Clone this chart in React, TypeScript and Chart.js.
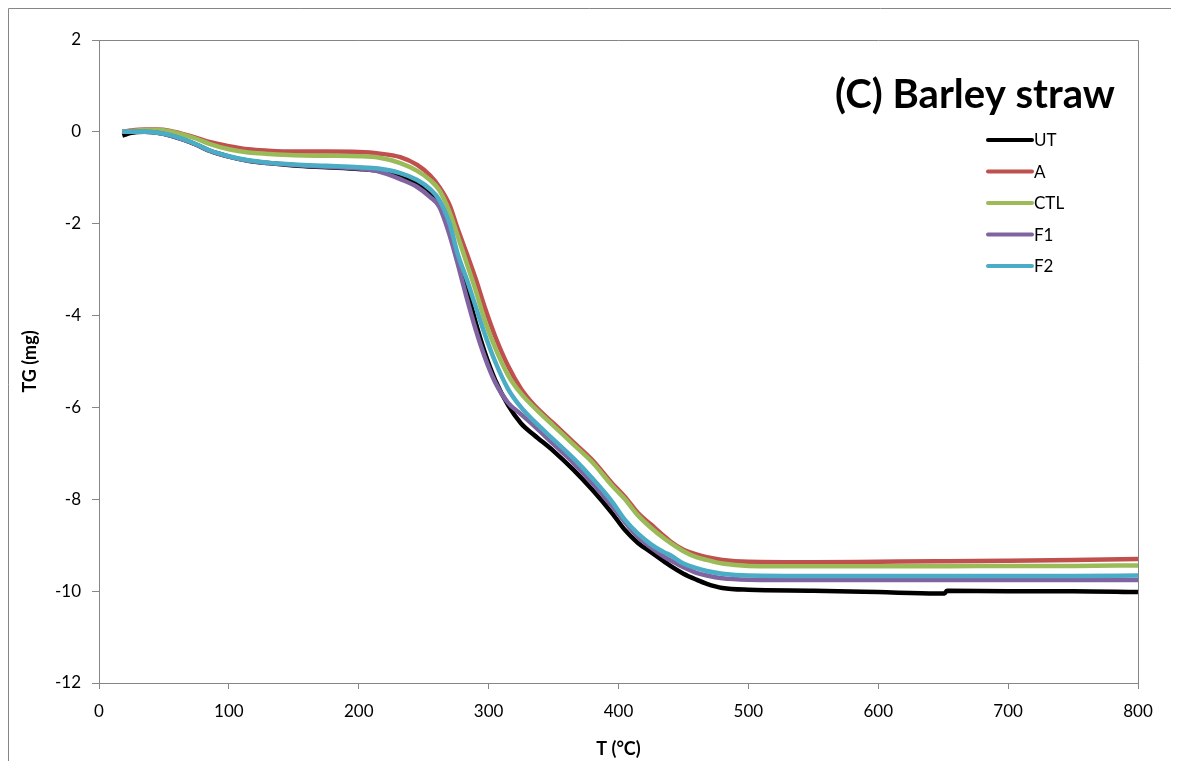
import React, { useEffect, useRef } from "react";
import { Chart, registerables } from "chart.js";

Chart.register(...registerables);

// ---------------- data ----------------
const temperature = [18, 25, 35, 45, 55, 65, 75, 85, 100, 115, 130, 150, 175, 200, 215, 232, 245, 255, 262, 270, 276, 283, 290, 297, 305, 315, 325, 335, 350, 365, 380, 395, 405, 415, 425, 435, 440, 450, 460, 468, 480, 500, 550, 600, 645, 651, 653, 700, 750, 800];

const tgUT = [-0.08, -0.02, 0.0, -0.02, -0.08, -0.17, -0.28, -0.41, -0.54, -0.63, -0.68, -0.73, -0.77, -0.81, -0.85, -0.97, -1.12, -1.35, -1.55, -2.15, -2.7, -3.4, -4.15, -4.8, -5.4, -5.95, -6.35, -6.6, -6.95, -7.35, -7.8, -8.3, -8.67, -8.95, -9.15, -9.35, -9.45, -9.62, -9.75, -9.84, -9.93, -9.97, -9.99, -10.02, -10.05, -10.05, -9.99, -10.0, -10.0, -10.02];

const tgA = [0.0, 0.03, 0.05, 0.05, 0.02, -0.05, -0.13, -0.22, -0.31, -0.38, -0.41, -0.43, -0.43, -0.44, -0.47, -0.55, -0.72, -0.95, -1.2, -1.6, -2.1, -2.64, -3.2, -3.82, -4.45, -5.1, -5.6, -5.95, -6.35, -6.75, -7.15, -7.65, -7.95, -8.3, -8.55, -8.8, -8.92, -9.1, -9.2, -9.26, -9.32, -9.36, -9.37, -9.36, -9.35, -9.35, -9.35, -9.34, -9.32, -9.3];

const tgCTL = [0.0, 0.02, 0.04, 0.04, 0.01, -0.06, -0.15, -0.26, -0.38, -0.45, -0.48, -0.51, -0.52, -0.53, -0.56, -0.68, -0.85, -1.05, -1.27, -1.75, -2.25, -2.85, -3.45, -4.1, -4.7, -5.3, -5.7, -6.0, -6.4, -6.8, -7.2, -7.7, -8.0, -8.35, -8.62, -8.85, -8.95, -9.13, -9.26, -9.32, -9.4, -9.45, -9.46, -9.46, -9.46, -9.46, -9.46, -9.45, -9.45, -9.44];

const tgF1 = [0.0, 0.0, 0.0, -0.02, -0.08, -0.17, -0.28, -0.41, -0.54, -0.63, -0.68, -0.72, -0.76, -0.8, -0.86, -1.03, -1.2, -1.42, -1.63, -2.25, -2.85, -3.6, -4.3, -4.9, -5.45, -5.9, -6.15, -6.4, -6.8, -7.2, -7.65, -8.15, -8.5, -8.82, -9.05, -9.25, -9.33, -9.48, -9.6, -9.66, -9.72, -9.75, -9.76, -9.76, -9.76, -9.76, -9.76, -9.76, -9.76, -9.76];

const tgF2 = [0.0, 0.0, 0.0, -0.02, -0.07, -0.16, -0.27, -0.4, -0.53, -0.62, -0.67, -0.71, -0.74, -0.77, -0.8, -0.9, -1.05, -1.25, -1.48, -2.0, -2.64, -3.2, -3.8, -4.4, -5.0, -5.6, -6.0, -6.3, -6.7, -7.1, -7.55, -8.05, -8.45, -8.75, -8.98, -9.15, -9.22, -9.4, -9.5, -9.56, -9.62, -9.66, -9.67, -9.67, -9.67, -9.67, -9.67, -9.67, -9.67, -9.66];

const seriesNames = ["UT", "A", "CTL", "F1", "F2"];
const seriesValues = [tgUT, tgA, tgCTL, tgF1, tgF2];
const seriesColors = ["#000000", "#C0504D", "#9BBB59", "#8064A2", "#4BACC6"];

const xTicks = [0, 100, 200, 300, 400, 500, 600, 700, 800];
const yTicks = [-12, -10, -8, -6, -4, -2, 0, 2];

const chartTitle = "(C) Barley straw";
const xTitle = "T (°C)";
const yTitle = "TG (mg)";

const FONT = "Lato, 'Open Sans', sans-serif";
const AXIS_GREY = "#868686";

// ---------------- plugin: frame, title, legend ----------------
const decorPlugin = {
  id: "decor",
  afterDraw(chart: any) {
    const { ctx, chartArea: ca } = chart;
    ctx.save();
    // outer chart border (left & top visible in the reference)
    ctx.strokeStyle = AXIS_GREY;
    ctx.lineWidth = 1;
    ctx.beginPath();
    ctx.moveTo(0.5, chart.height);
    ctx.lineTo(0.5, 0.5);
    ctx.lineTo(chart.width, 0.5);
    ctx.stroke();

    // plot area frame: top and right
    ctx.beginPath();
    ctx.moveTo(ca.left, Math.round(ca.top) + 0.5);
    ctx.lineTo(Math.round(ca.right) + 0.5, Math.round(ca.top) + 0.5);
    ctx.lineTo(Math.round(ca.right) + 0.5, ca.bottom);
    ctx.stroke();

    // title inside plot area
    let size = 38;
    ctx.font = `bold ${size}px ${FONT}`;
    const w = ctx.measureText(chartTitle).width;
    size = (size * 280) / w;
    ctx.font = `bold ${size}px ${FONT}`;
    ctx.fillStyle = "#000";
    ctx.textAlign = "right";
    ctx.textBaseline = "alphabetic";
    ctx.fillText(chartTitle, ca.right - 23, ca.top + 68);

    // legend inside plot area
    ctx.font = `17px ${FONT}`;
    ctx.textAlign = "left";
    ctx.textBaseline = "middle";
    chart.data.datasets.forEach((ds: any, i: number) => {
      const y = ca.top + 100 + i * 31.5;
      const x0 = ca.right - 150;
      ctx.strokeStyle = ds.borderColor;
      ctx.lineWidth = 4;
      ctx.lineCap = "round";
      ctx.beginPath();
      ctx.moveTo(x0, y);
      ctx.lineTo(x0 + 44, y);
      ctx.stroke();
      ctx.fillStyle = "#000";
      ctx.fillText(ds.label, x0 + 46, y + 1);
    });
    ctx.restore();
  },
};

export default function App() {
  const canvasRef = useRef<HTMLCanvasElement | null>(null);

  useEffect(() => {
    const canvas = canvasRef.current;
    if (!canvas) return;
    const datasets = seriesNames.map((name, i) => ({
      label: name,
      data: temperature.map((t, k) => ({ x: t, y: seriesValues[i][k] })),
      borderColor: seriesColors[i],
      backgroundColor: seriesColors[i],
      borderWidth: 4.5,
      pointRadius: 0,
      fill: false,
      cubicInterpolationMode: "monotone" as const,
      order: seriesNames.length - i,
    }));

    const chart = new Chart(canvas, {
      type: "line",
      data: { datasets },
      options: {
        animation: false,
        responsive: false,
        devicePixelRatio: 1,
        layout: { padding: { left: 0, top: 32, right: 33, bottom: 0 } },
        plugins: {
          legend: { display: false },
          tooltip: { enabled: false },
          title: { display: false },
        },
        scales: {
          x: {
            type: "linear",
            min: 0,
            max: 800,
            afterBuildTicks: (s: any) => {
              s.ticks = xTicks.map((v) => ({ value: v }));
            },
            afterFit: (s: any) => {
              s.height = 78;
            },
            grid: {
              drawOnChartArea: false,
              drawTicks: true,
              tickLength: 6,
              color: AXIS_GREY,
            },
            border: { display: true, color: AXIS_GREY },
            ticks: {
              color: "#000",
              font: { family: FONT, size: 17 },
              padding: 12,
              maxRotation: 0,
            },
            title: {
              display: true,
              text: xTitle,
              color: "#000",
              font: { family: FONT, size: 18, weight: "bold" },
              padding: { top: 0, bottom: 1 },
            },
          },
          y: {
            type: "linear",
            min: -12,
            max: 2,
            afterBuildTicks: (s: any) => {
              s.ticks = yTicks.map((v) => ({ value: v }));
            },
            afterFit: (s: any) => {
              s.width = 91;
            },
            grid: {
              drawOnChartArea: false,
              drawTicks: true,
              tickLength: 7,
              color: AXIS_GREY,
            },
            border: { display: true, color: AXIS_GREY },
            ticks: {
              color: "#000",
              font: { family: FONT, size: 17 },
              padding: 11,
            },
            title: {
              display: true,
              text: yTitle,
              color: "#000",
              font: { family: FONT, size: 18, weight: "bold" },
              padding: { top: 11, bottom: 0 },
            },
          },
        },
      },
      plugins: [decorPlugin],
    });
    return () => chart.destroy();
  }, []);

  return (
    <canvas
      ref={canvasRef}
      width={1163}
      height={753}
      style={{ display: "block", width: 1163, height: 753 }}
    />
  );
}
